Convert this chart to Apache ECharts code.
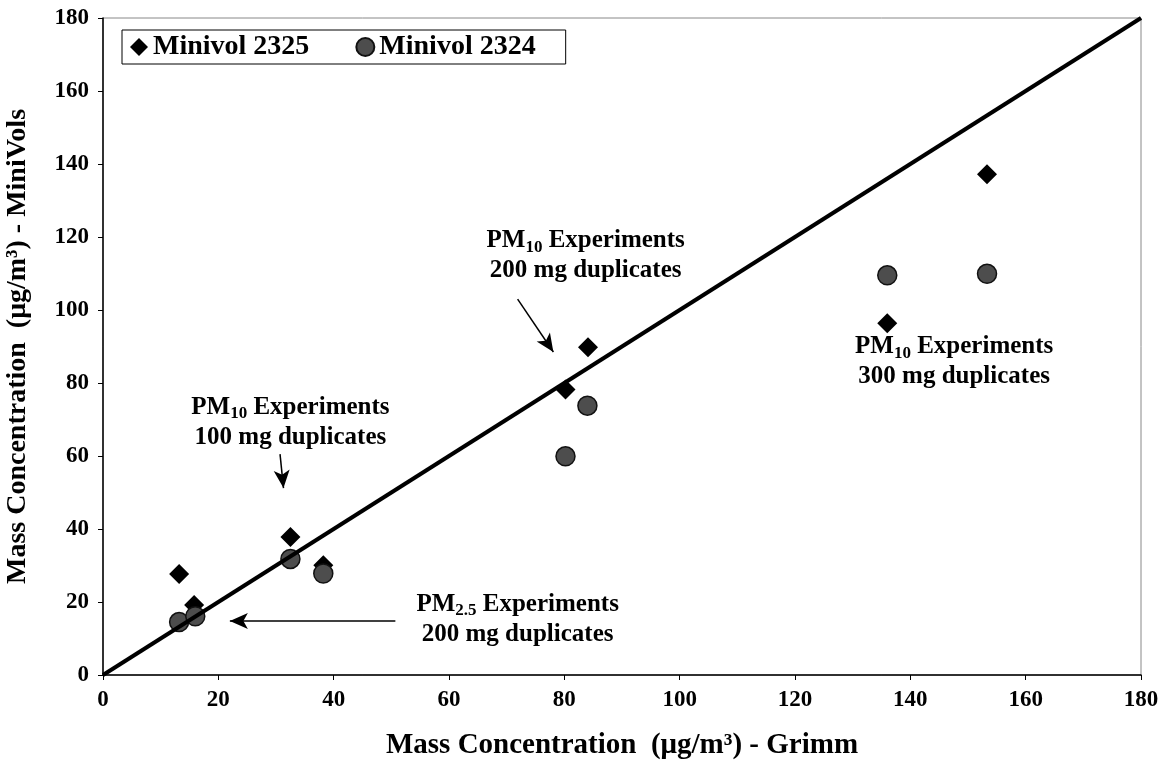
<!DOCTYPE html>
<html>
<head>
<meta charset="utf-8">
<script src="https://cdn.jsdelivr.net/npm/echarts@6/dist/echarts.min.js"></script>
<style>
html, body { margin: 0; padding: 0; background: #fff; }
#chart { width: 1167px; height: 773px; }
</style>
</head>
<body>
<div id="chart"></div>
<script>
// 数据
const grimm2325 = [13.2, 15.8, 32.5, 38.2, 80.2, 84.1, 136.0, 153.3];
const minivol2325 = [27.7, 19.2, 37.8, 30.1, 78.2, 89.8, 96.4, 137.2];
const grimm2324 = [13.2, 16.0, 32.5, 38.2, 80.2, 84.0, 136.0, 153.3];
const minivol2324 = [14.5, 16.1, 31.8, 27.8, 59.9, 73.8, 109.5, 109.9];
const oneToOne = [[0, 0], [180, 180]];

// 注释: 文字中心(数据坐标) 与 箭头
const annoSub = ['10', '10', '10', '2.5'];
const annoMass = ['100', '200', '300', '200'];
const annoCenter = [[32.5, 69.3], [83.7, 114.8], [147.6, 85.8], [71.9, 15.3]];
const arrowFrom = [[30.7, 60.5], [71.9, 103.0], [50.7, 14.8]];
const arrowTo = [[31.3, 51.2], [78.1, 88.5], [22.0, 14.8]];

const FONT = '"Liberation Serif", "Times New Roman", serif';

const chart = echarts.init(document.getElementById('chart'));

chart.setOption({
    animation: false,
    backgroundColor: '#fff',
    grid: {
        left: 103, right: 26, top: 18, bottom: 98,
        outerBoundsMode: 'none', containLabel: false,
        show: true, borderColor: '#888', borderWidth: 1
    },
    legend: {
        data: ['Minivol 2325', 'Minivol 2324'],
        left: 122, top: 30,
        itemGap: 46, itemWidth: 18, itemHeight: 18,
        padding: [3, 30, 3, 8],
        borderColor: '#000', borderWidth: 1,
        textStyle: { fontFamily: FONT, fontWeight: 'bold', fontSize: 28, color: '#000' }
    },
    xAxis: {
        type: 'value', min: 0, max: 180, interval: 20,
        name: 'Mass Concentration  (\u03bcg/m\u00b3) - Grimm',
        nameLocation: 'middle', nameGap: 56,
        nameTextStyle: { fontFamily: FONT, fontWeight: 'bold', fontSize: 29, color: '#000' },
        axisLine: { lineStyle: { color: '#000', width: 1.5 } },
        axisTick: { length: 5, lineStyle: { color: '#000' } },
        axisLabel: { margin: 14, fontFamily: FONT, fontWeight: 'bold', fontSize: 23, color: '#000' },
        splitLine: { show: false }
    },
    yAxis: {
        type: 'value', min: 0, max: 180, interval: 20,
        name: 'Mass Concentration  (\u03bcg/m\u00b3) - MiniVols',
        nameLocation: 'middle', nameGap: 71,
        nameTextStyle: { fontFamily: FONT, fontWeight: 'bold', fontSize: 28, color: '#000' },
        axisLine: { lineStyle: { color: '#000', width: 1.5 } },
        axisTick: { length: 5, lineStyle: { color: '#000' } },
        axisLabel: { margin: 14, fontFamily: FONT, fontWeight: 'bold', fontSize: 23, color: '#000' },
        splitLine: { show: false }
    },
    series: [
        {
            name: 'Minivol 2325', type: 'scatter', symbol: 'diamond', symbolSize: 20, z: 2,
            itemStyle: { color: '#000', opacity: 1 },
            data: grimm2325.map((x, i) => [x, minivol2325[i]])
        },
        {
            name: 'Minivol 2324', type: 'scatter', symbol: 'circle', symbolSize: 19, z: 3,
            itemStyle: { color: '#4d4d4d', borderColor: '#111', borderWidth: 1.5, opacity: 1 },
            data: grimm2324.map((x, i) => [x, minivol2324[i]])
        },
        {
            name: '1:1', type: 'line', symbol: 'none', z: 4, silent: true,
            lineStyle: { color: '#000', width: 4 },
            data: oneToOne,
            markLine: {
                silent: true, symbol: ['none', 'arrow'], symbolSize: [12, 18],
                label: { show: false },
                lineStyle: { color: '#000', width: 1.5, type: 'solid' },
                data: arrowFrom.map((p, i) => [{ coord: p }, { coord: arrowTo[i] }])
            }
        }
    ]
});

// 注释文字
const rich = {
    b: { fontFamily: FONT, fontWeight: 'bold', fontSize: 25, lineHeight: 30, fill: '#000' },
    s: { fontFamily: FONT, fontWeight: 'bold', fontSize: 17, lineHeight: 17, verticalAlign: 'bottom', fill: '#000' }
};
chart.setOption({
    graphic: annoCenter.map((c, i) => {
        const p = chart.convertToPixel({ gridIndex: 0 }, c);
        return {
            type: 'text', x: p[0], y: p[1], silent: true,
            style: {
                text: `{b|PM}{s|${annoSub[i]}}{b| Experiments}\n{b|${annoMass[i]} mg duplicates}`,
                rich: rich, align: 'center', verticalAlign: 'middle'
            }
        };
    })
});
</script>
</body>
</html>
